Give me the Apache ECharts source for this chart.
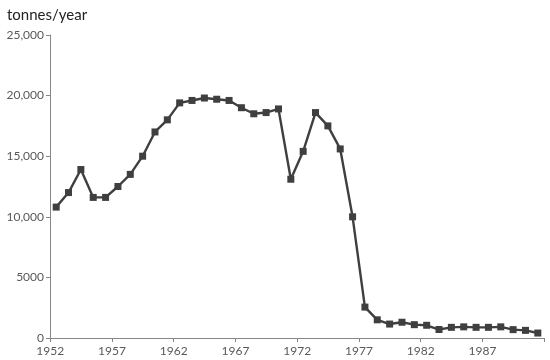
<!DOCTYPE html>
<html>
<head>
<meta charset="utf-8">
<script src="https://cdn.jsdelivr.net/npm/echarts@6/dist/echarts.min.js"></script>
<style>
  html, body { margin: 0; padding: 0; background: #fff; }
  #main { width: 550px; height: 360px; }
</style>
</head>
<body>
<div id="main"></div>
<script>
// 年份 1952-1991
var years = [];
for (var y = 1952; y <= 1991; y++) { years.push(String(y)); }

// 产量 (tonnes/year)，从图上读的
var tonnes = [
  10800, 12000, 13900, 11600, 11600, 12500, 13500, 15000, 17000, 18000,
  19400, 19600, 19800, 19700, 19600, 19000, 18500, 18600, 18900, 13100,
  15400, 18600, 17500, 15600, 10000, 2550, 1500, 1150, 1300, 1100,
  1050, 700, 880, 920, 880, 880, 920, 690, 630, 410
];

// y轴刻度文字
var yLabels = { 0: '0', 5000: '5000', 10000: '10,000', 15000: '15,000', 20000: '20,000', 25000: '25,000' };

var font = 'Lato, "Open Sans", sans-serif';
var axisColor = '#868686';
var textColor = '#595959';

var chart = echarts.init(document.getElementById('main'));
var option = {
  animation: false,
  title: {
    text: 'tonnes/year',
    left: 2,
    top: 3,
    textStyle: { fontFamily: font, fontSize: 15, fontWeight: 'normal', color: '#222' }
  },
  grid: { left: 50, right: 6, top: 35, bottom: 22 },
  xAxis: {
    type: 'category',
    data: years,
    boundaryGap: true,
    axisLine: { lineStyle: { color: axisColor, width: 1 } },
    axisTick: { show: true, interval: 4, length: 4, lineStyle: { color: axisColor } },
    axisLabel: {
      interval: 4,
      color: textColor,
      fontFamily: font,
      fontSize: 12,
      margin: 7,
      // 标签挪到刻度线上
      padding: [0, 12, 0, 0]
    },
    splitLine: { show: false }
  },
  yAxis: {
    type: 'value',
    min: 0,
    max: 25000,
    interval: 5000,
    axisLine: { show: true, lineStyle: { color: axisColor, width: 1 } },
    axisTick: { show: true, length: 4, lineStyle: { color: axisColor } },
    axisLabel: {
      color: textColor,
      fontFamily: font,
      fontSize: 12,
      margin: 6,
      formatter: function (v) { return yLabels[v]; }
    },
    splitLine: { show: false }
  },
  series: [{
    type: 'line',
    data: tonnes,
    symbol: 'rect',
    symbolSize: 7,
    showAllSymbol: true,
    lineStyle: { color: '#3f3f3f', width: 2.4 },
    itemStyle: { color: '#3f3f3f' }
  }]
};
chart.setOption(option);
</script>
</body>
</html>
